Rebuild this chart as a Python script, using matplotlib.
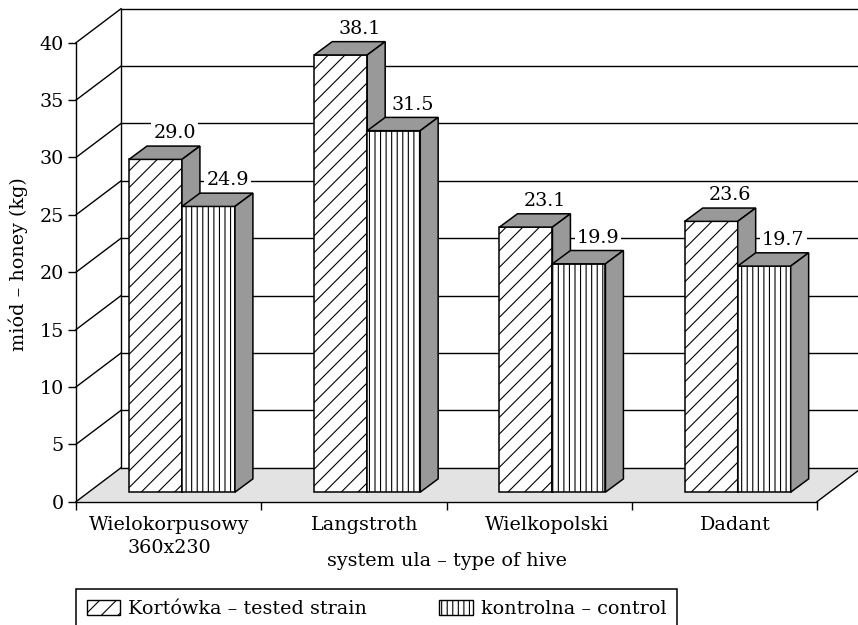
import matplotlib
matplotlib.use('Agg')
import matplotlib.pyplot as plt
from matplotlib.patches import Polygon, Patch

plt.rcParams['font.family'] = ['DejaVu Serif']
plt.rcParams['hatch.linewidth'] = 0.8

categories = ['Wielokorpusowy\n360x230', 'Langstroth', 'Wielkopolski', 'Dadant']
tested = [29.0, 38.1, 23.1, 23.6]
control = [24.9, 31.5, 19.9, 19.7]
yticks = [0, 5, 10, 15, 20, 25, 30, 35, 40]
legend_labels = ['Kortówka – tested strain', 'kontrolna – control']

FS = 13.8
GRAY = '#999999'
FLOOR = '#e3e3e3'

# depth of the fake 3d room and of the bars, in data units
room_dx = 0.243
room_dy = 2.96
bar_dx = 0.097
bar_dy = 1.16
floor_y = 0.83
bar_w = 0.286

fig = plt.figure(figsize=(8.58, 6.25), dpi=100)
ax = fig.add_axes([76/858, (625-501.7)/625, (817-76)/858, (501.7-42.7)/625])
ax.set_xlim(0, 4)
ax.set_ylim(0, 40)
for s in ax.spines.values():
    s.set_visible(False)
ax.patch.set_visible(False)

# floor
ax.add_patch(Polygon([(0, 0), (room_dx, room_dy), (4+room_dx, room_dy), (4, 0)],
                     facecolor=FLOOR, edgecolor='none', zorder=1, clip_on=False))

# walls and grid
for t in yticks:
    ax.plot([0, room_dx], [t, t+room_dy], color='k', lw=1.0, zorder=2, clip_on=False)
    ax.plot([room_dx, 4+room_dx], [t+room_dy, t+room_dy], color='k', lw=1.0, zorder=2, clip_on=False)
ax.plot([0, 0], [0, 40], color='k', lw=1.0, zorder=2, clip_on=False)
ax.plot([room_dx, room_dx], [room_dy, 40+room_dy], color='k', lw=1.0, zorder=2, clip_on=False)
ax.plot([0, 4], [0, 0], color='k', lw=1.0, zorder=2, clip_on=False)
ax.plot([4, 4+room_dx], [0, room_dy], color='k', lw=1.0, zorder=2, clip_on=False)


def draw_bar(x, v, hatch, z):
    ax.bar(x, v, bar_w, bottom=floor_y, align='edge', facecolor='white', edgecolor='k',
           hatch=hatch, linewidth=1.1, zorder=z, clip_on=False)
    ytop = floor_y + v
    ax.add_patch(Polygon([(x, ytop), (x+bar_dx, ytop+bar_dy), (x+bar_w+bar_dx, ytop+bar_dy), (x+bar_w, ytop)],
                         facecolor=GRAY, edgecolor='k', lw=1.1, zorder=z, clip_on=False))
    ax.add_patch(Polygon([(x+bar_w, floor_y), (x+bar_w+bar_dx, floor_y+bar_dy),
                          (x+bar_w+bar_dx, ytop+bar_dy), (x+bar_w, ytop)],
                         facecolor=GRAY, edgecolor='k', lw=1.1, zorder=z, clip_on=False))
    ax.text(x+bar_w/2+0.103, ytop+2.27, '%.1f' % v, ha='center', va='center', fontsize=FS, zorder=z+5,
            bbox=dict(facecolor='white', edgecolor='none', pad=1.5))


for i in range(len(categories)):
    draw_bar(i+bar_w, tested[i], '//', 3+2*i)
    draw_bar(i+2*bar_w, control[i], '|||', 4+2*i)

# axes ticks
ax.set_yticks(yticks)
ax.set_xticks([0, 1, 2, 3, 4])
ax.set_xticklabels([])
ax.tick_params(axis='both', length=5.8, width=1.0, labelsize=FS, pad=3)

cat_shift = [1, 11, 8, 11]
for i, c in enumerate(categories):
    ax.annotate(c, (i+0.5, 0), xytext=(cat_shift[i], -14), textcoords='offset pixels',
                ha='center', va='top', fontsize=FS, linespacing=1.35)

fig.text(447/858, 1-561/625, 'system ula – type of hive', ha='center', va='center', fontsize=FS)
fig.text(18/858, 1-264/625, 'miód – honey (kg)', rotation=90, ha='center', va='center', fontsize=FS)

handles = [Patch(facecolor='white', edgecolor='k', hatch='//', lw=1),
           Patch(facecolor='white', edgecolor='k', hatch='|||', lw=1)]
leg = fig.legend(handles, legend_labels, ncol=2, loc='upper left', bbox_to_anchor=(76/858, 1-589/625),
                 borderaxespad=0, fontsize=FS, fancybox=False, edgecolor='k', framealpha=1,
                 handlelength=1.75, handleheight=0.9, handletextpad=0.4, columnspacing=3.8,
                 borderpad=0.55)
leg.get_frame().set_linewidth(1.1)

fig.savefig('out.png', dpi=100)
